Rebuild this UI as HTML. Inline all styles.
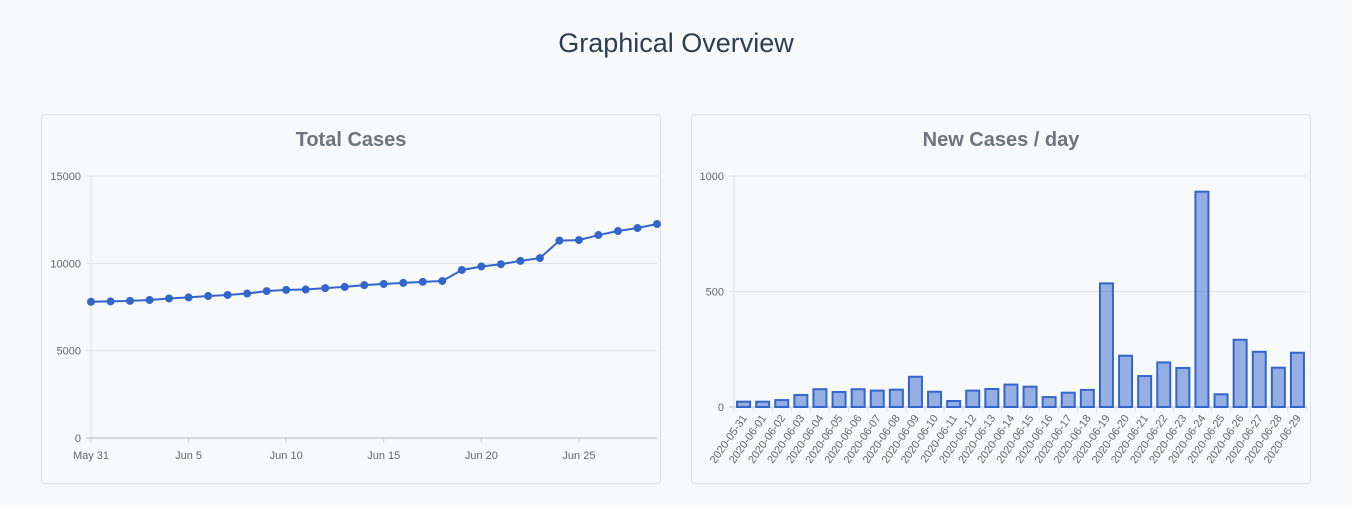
<!DOCTYPE html>
<html><head><meta charset="utf-8"><style>
body{margin:0;width:1352px;height:507px;background:#f8f9fa;font-family:"Liberation Sans",sans-serif;overflow:hidden;position:relative}
h1{position:absolute;top:28px;left:0;width:1352px;text-align:center;margin:0;font-weight:normal;font-size:27px;color:#2c3e50}
.card{position:absolute;top:114px;width:618px;height:368px;border:1px solid #dcdfe3;border-radius:3px;background:#f8f9fa}
.card h2{margin:0;position:absolute;top:14px;width:100%;text-align:center;font-size:20px;color:#6c757d;font-weight:bold}
svg{position:absolute;left:0;top:0}
</style></head><body>
<h1>Graphical Overview</h1>
<div class="card" style="left:41px"><h2>Total Cases</h2></div>
<div class="card" style="left:691px"><h2>New Cases / day</h2></div>
<svg id="s" width="1352" height="507"></svg>
<script>
const totalDates=["May 31","Jun 5","Jun 10","Jun 15","Jun 20","Jun 25"];
const totalValues=[7800,7820,7850,7900,7990,8050,8130,8190,8270,8410,8480,8500,8580,8650,8750,8820,8880,8940,8990,9620,9820,9950,10140,10300,11300,11330,11620,11850,12020,12250];
const totalTicks=[0,5000,10000,15000];
const newDates=["2020-05-31","2020-06-01","2020-06-02","2020-06-03","2020-06-04","2020-06-05","2020-06-06","2020-06-07","2020-06-08","2020-06-09","2020-06-10","2020-06-11","2020-06-12","2020-06-13","2020-06-14","2020-06-15","2020-06-16","2020-06-17","2020-06-18","2020-06-19","2020-06-20","2020-06-21","2020-06-22","2020-06-23","2020-06-24","2020-06-25","2020-06-26","2020-06-27","2020-06-28","2020-06-29"];
const newValues=[23,23,30,52,77,65,77,71,75,131,66,26,71,78,97,88,43,62,74,535,222,134,193,169,932,55,291,239,170,235];
const newTicks=[0,500,1000];
const s=document.getElementById('s');const NS="http://www.w3.org/2000/svg";
function mk(t,a,txt){const e=document.createElementNS(NS,t);for(const k in a)e.setAttribute(k,a[k]);if(txt!==undefined)e.textContent=txt;s.appendChild(e);return e;}
// left chart
const lx0=91,lx1=657,ly0=438,ly1=176;
const lx=i=>lx0+i*(lx1-lx0)/(totalValues.length-1);
const ly=v=>ly0-(v/15000)*(ly0-ly1);
totalTicks.forEach(t=>{const y=ly(t);
 let g=mk('line',{x1:lx0-5,x2:lx1,y1:y,y2:y,stroke:t===0?'#bbb':'#e0e0e0'});
 
 let l=mk('text',{x:lx0-10,y:y+4,'text-anchor':'end','font-size':11,fill:'#666'},t);
 });
let ax=mk('line',{x1:lx0,x2:lx0,y1:ly1,y2:ly0+5,stroke:'#e0e0e0'});

totalDates.forEach((d,k)=>{const x=lx(k*5);
 let t=mk('line',{x1:x,x2:x,y1:ly0,y2:ly0+5,stroke:'#ccc'});
 
 let l=mk('text',{x:x,y:ly0+21,'text-anchor':'middle','font-size':11,fill:'#666'},d);
 });
let pts=totalValues.map((v,i)=>lx(i)+','+ly(v)).join(' ');
let pl=mk('polyline',{points:pts,fill:'none',stroke:'#3366cc','stroke-width':2});

totalValues.forEach((v,i)=>{let c=mk('circle',{cx:lx(i),cy:ly(v),r:4,fill:'#3366cc'});
 });
// right chart
const rx0=734,rx1=1307,ry0=407,ry1=176;
const cw=(rx1-rx0)/newValues.length;
const ry=v=>ry0-(v/1000)*(ry0-ry1);
newTicks.forEach(t=>{const y=ry(t);
 let g=mk('line',{x1:rx0-5,x2:rx1,y1:y,y2:y,stroke:t===0?'#bbb':'#e0e0e0'});
 
 let l=mk('text',{x:rx0-10,y:y+4,'text-anchor':'end','font-size':11,fill:'#666'},t);
 });
let ax2=mk('line',{x1:rx0,x2:rx0,y1:ry1,y2:ry0+5,stroke:'#e0e0e0'});

newValues.forEach((v,i)=>{const cx=rx0+cw*(i+0.5),bw=cw*0.68;
 let b=mk('rect',{x:cx-bw/2,y:ry(v),width:bw,height:ry0-ry(v),fill:'rgba(51,102,204,0.5)',stroke:'#3366cc','stroke-width':2});
 
 let t=mk('line',{x1:rx0+cw*(i+1),x2:rx0+cw*(i+1),y1:ry0,y2:ry0+5,stroke:'#e0e0e0'});
 
 let l=mk('text',{x:cx+4,y:ry0+11,'text-anchor':'end','font-size':11,fill:'#666',transform:`rotate(-55 ${cx+4} ${ry0+11})`},newDates[i]);
 });
</script>
</body></html>
